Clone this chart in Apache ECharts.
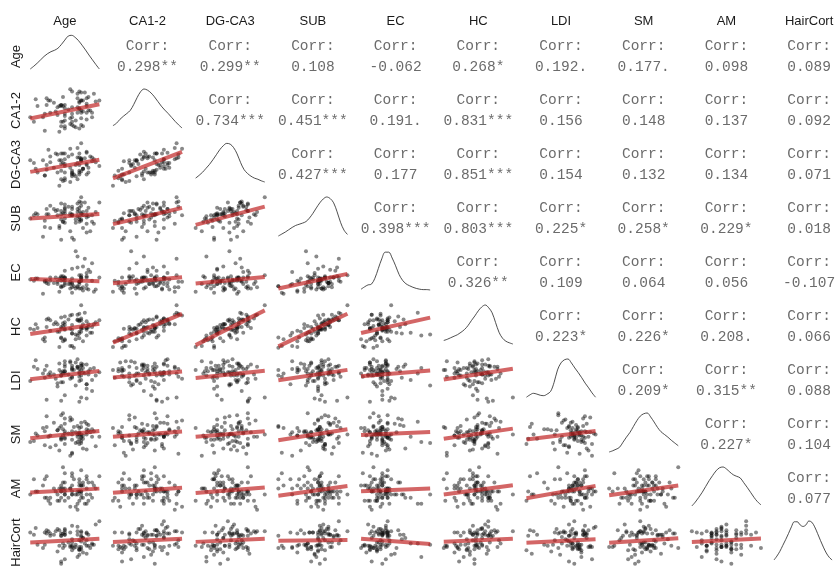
<!DOCTYPE html>
<html><head><meta charset="utf-8">
<script src="https://cdn.jsdelivr.net/npm/echarts@6/dist/echarts.min.js"></script>
<style>html,body{margin:0;padding:0;background:#fff}#c{width:835px;height:567px}</style>
</head><body><div id="c"></div>
<script>
// ---------- DATA ----------
const varNames = ["Age","CA1-2","DG-CA3","SUB","EC","HC","LDI","SM","AM","HairCort"];

// per-subject values (standardised units x10, read/estimated from the scatter panels)
const age = [6,-13,14,-2,6,-11,1,10,-3,-4, 12,-12,7,-3,1,7,-18,2,5,-6, 8,7,-4,15,-13,7,5,-14,7,7, 0,1,-6,11,6,-17,10,2,-4,5, 10,-10,3,5,-21,9,8,-2,-2,-5, 6,6,-12,4,17,-4,4,-7,2,10, -19,11,-2,-3,8,-2,13,2,-10,7, 2,2,13,-8,-2,10,-5,-4,6,-2];
const ca12 = [8,-17,16,-2,3,10,-6,-7,13,-13, 1,6,1,-9,20,-12,11,-12,4,4, 0,10,-9,9,-2,17,-1,-5,10,-1, 2,-11,-3,1,9,5,-1,-9,5,16, 5,-1,-13,12,-5,17,-13,3,-15,5, 18,-15,12,-8,10,6,-14,0,4,12, -9,13,-13,5,10,-4,-1,-5,10,-6, 18,-2,-5,8,-8,7,-18,6,2,6];
const dgca3 = [1,-10,7,7,-9,17,-2,2,3,-14, 10,-4,8,-16,18,5,-3,-9,9,-7, -3,7,6,4,-10,24,-14,6,7,-6, 10,-17,12,-7,13,-7,15,-7,-5,19, -9,10,-9,3,6,8,-3,-7,-13,6, 9,-5,1,1,0,2,-11,13,-5,14, 3,-2,-15,13,-3,2,9,-11,4,6, 12,-8,5,-2,0,1,-21,13,-7,13];
const sub = [9,-3,-6,9,0,3,4,6,4,-2, -13,3,14,-4,2,4,4,-19,13,2, 2,-2,6,5,-9,19,1,-18,11,-3, 10,-13,7,9,6,3,-6,2,3,5, 2,11,-21,8,-1,14,-10,4,-5,-8, 15,-4,8,-5,14,-21,-2,6,8,0, 2,1,-1,-4,5,8,2,2,-10,3, 10,3,-4,8,6,-14,-10,13,-2,12];
const ec = [0,1,-9,4,6,-2,-6,5,2,-5, 9,1,1,5,0,-6,3,-10,13,-2, -5,3,4,-7,0,6,23,-11,4,4, -2,-2,0,11,-6,3,-6,12,1,-5, 4,4,-4,-4,2,21,-8,1,-3,3, 0,0,-1,28,4,-4,-6,4,-1,8, 1,-7,4,-4,14,-1,1,-2,1,1, -5,3,17,-1,3,-3,-9,5,-2,10];
const hc = [9,-12,6,8,-2,12,1,0,7,-9, -3,3,10,-12,15,1,6,-17,11,-2, 2,3,3,8,-8,26,-6,-10,12,-2, 11,-17,6,3,10,2,2,-4,1,16, 2,10,-19,10,1,18,-12,0,-11,-2, 17,-9,11,-5,10,-8,-10,8,5,9, 0,6,-10,4,6,5,3,-4,-1,2, 16,0,-3,6,1,-6,-18,13,-4,14];
const ldi = [3,-2,7,10,-5,1,12,-8,4,0, 6,-22,9,2,-3,5,14,-1,8,-10, 3,11,-6,0,5,-20,7,2,-4,9, 1,13,-7,4,-24,6,10,-2,3,8, -12,0,5,15,-5,2,7,-18,4,11, -1,6,9,-9,3,0,12,-3,5,-21, 8,1,4,-6,10,2,-14,7,3,0, 6,9,-4,1,13,-8,5,-23,2,8];
const sm = [2,-8,5,12,-3,0,18,-12,7,-1, 4,9,-6,1,15,-4,3,-15,10,6, -2,0,20,-9,5,2,-5,8,13,-1, 3,-18,6,11,-7,1,4,16,-3,0, 7,-10,9,2,-5,14,1,-2,5,-13, 8,3,19,-6,0,10,4,-8,2,12, -4,6,-1,22,-11,3,7,-3,1,9, -16,5,0,13,-7,2,8,-2,4,17];
const am = [7,5,9,6,11,4,8,3,10,7, 6,12,5,8,2,9,7,13,6,4, 10,7,5,8,11,6,3,9,7,14, 5,8,6,10,4,7,12,6,9,1, 8,5,11,7,6,3,9,13,4,8, 7,10,5,6,12,8,2,7,9,6, 11,4,8,15,5,7,10,6,3,9, 7,12,5,8,6,11,4,7,9,10];
const hairCort = [-5,8,-3,6,-12,9,-4,1,7,-18, -6,10,5,-2,8,-7,12,-4,6,-9, 3,-5,7,15,-3,9,-14,-6,4,8, -1,-5,11,6,-8,-3,7,2,-20,9, -4,5,-6,13,8,-2,-10,6,-4,10, 1,-7,7,-3,18,5,-5,9,-1,-11, 6,-4,8,-6,3,11,-3,-8,7,0, -5,14,-2,6,-16,8,-4,5,-7,10];

// correlation labels (upper triangle, row by row)
const corrAge  = ["0.298**","0.299**","0.108","-0.062","0.268*","0.192.","0.177.","0.098","0.089"];
const corrCA   = ["0.734***","0.451***","0.191.","0.831***","0.156","0.148","0.137","0.092"];
const corrDG   = ["0.427***","0.177","0.851***","0.154","0.132","0.134","0.071"];
const corrSUB  = ["0.398***","0.803***","0.225*","0.258*","0.229*","0.018"];
const corrEC   = ["0.326**","0.109","0.064","0.056","-0.107"];
const corrHC   = ["0.223*","0.226*","0.208.","0.066"];
const corrLDI  = ["0.209*","0.315**","0.088"];
const corrSM   = ["0.227*","0.104"];
const corrAM   = ["0.077"];

// density curves on the diagonal (relative height, at fractions of each variable's range)
const densX = [0,0.05,0.1,0.15,0.2,0.25,0.3,0.35,0.4,0.45,0.5,0.55,0.6,0.65,0.7,0.75,0.8,0.85,0.9,0.95,1];
const densAge = [0,0.08,0.17,0.27,0.37,0.45,0.51,0.55,0.61,0.72,0.85,0.97,0.99,0.93,0.83,0.70,0.56,0.41,0.27,0.13,0];
const densCA  = [0.06,0.12,0.22,0.30,0.37,0.45,0.60,0.78,0.93,1.0,0.97,0.90,0.80,0.68,0.56,0.46,0.37,0.27,0.17,0.08,0];
const densDG  = [0.10,0.17,0.25,0.35,0.45,0.57,0.70,0.83,0.93,0.99,0.97,0.88,0.72,0.50,0.32,0.22,0.15,0.10,0.07,0.03,0];
const densSUB = [0,0.05,0.10,0.16,0.22,0.27,0.30,0.33,0.37,0.46,0.58,0.72,0.85,0.95,1.0,0.96,0.85,0.62,0.35,0.15,0.04];
const densEC  = [0.02,0.08,0.13,0.15,0.30,0.55,0.80,0.97,0.97,0.82,0.62,0.40,0.25,0.16,0.11,0.07,0.04,0.02,0.01,0.01,0];
const densHC  = [0.09,0.12,0.16,0.20,0.24,0.30,0.37,0.47,0.60,0.72,0.85,0.95,1.0,0.93,0.80,0.55,0.30,0.15,0.07,0.03,0];
const densLDI = [0.02,0.08,0.12,0.10,0.07,0.06,0.10,0.17,0.40,0.72,0.90,0.98,1.0,0.90,0.77,0.65,0.52,0.38,0.26,0.13,0.02];
const densSM  = [0,0.03,0.07,0.12,0.25,0.38,0.50,0.65,0.80,0.92,0.98,1.0,0.90,0.77,0.63,0.52,0.45,0.38,0.30,0.23,0.16];
const densAM  = [0,0.10,0.22,0.35,0.50,0.65,0.78,0.90,0.98,1.0,0.95,0.87,0.80,0.76,0.72,0.60,0.48,0.35,0.22,0.11,0.03];
const densHair= [0,0.10,0.22,0.37,0.52,0.68,0.85,0.98,0.98,0.90,0.86,0.90,1.0,0.97,0.85,0.68,0.50,0.33,0.18,0.07,0];

// ---------- BUILD ----------
const cols = [age, ca12, dgca3, sub, ec, hc, ldi, sm, am, hairCort];
const corrRows = [corrAge, corrCA, corrDG, corrSUB, corrEC, corrHC, corrLDI, corrSM, corrAM];
const dens = [densAge, densCA, densDG, densSUB, densEC, densHC, densLDI, densSM, densAM, densHair];

const colC0 = 64.8, colPitch = 82.7, panelW = 76;
const rowC0 = 56.5, rowPitch = 54, panelH = 47;
const cx = i => colC0 + colPitch * i;
const cy = j => rowC0 + rowPitch * j;

function stats(a){
  const n = a.length, m = a.reduce((s,v)=>s+v,0)/n;
  const sd = Math.sqrt(a.reduce((s,v)=>s+(v-m)*(v-m),0)/(n-1));
  return {m, sd, min: Math.min(...a), max: Math.max(...a)};
}
const st = cols.map(stats);
const pad = s => { const r = s.max - s.min; return [s.min - 0.05*r, s.max + 0.05*r]; };

const hidden = {show:false, axisLine:{show:false}, axisTick:{show:false}, axisLabel:{show:false}, splitLine:{show:false}};
const grid = [], xAxis = [], yAxis = [], series = [], graphic = [];
let g = 0;
for (let j = 0; j < 10; j++) {
  for (let i = 0; i <= j; i++) {
    grid.push({left: cx(i) - panelW/2, top: cy(j) - panelH/2, width: panelW, height: panelH, show:false});
    if (i === j) {
      const ymin = j === 0 ? -0.324 : -0.154, ymax = j === 0 ? 1.059 : 1.051;
      xAxis.push(Object.assign({type:'value', gridIndex:g, min:-0.05, max:1.05}, hidden));
      yAxis.push(Object.assign({type:'value', gridIndex:g, min:ymin, max:ymax}, hidden));
      series.push({type:'line', xAxisIndex:g, yAxisIndex:g, data: densX.map((x,k)=>[x, dens[i][k]]),
        smooth:0.35, showSymbol:false, silent:true, lineStyle:{color:'#222', width:0.8}});
    } else {
      const sx = st[i], sy = st[j];
      const [x0,x1] = pad(sx), [y0,y1] = pad(sy);
      xAxis.push(Object.assign({type:'value', gridIndex:g, min:x0, max:x1}, hidden));
      yAxis.push(Object.assign({type:'value', gridIndex:g, min:y0, max:y1}, hidden));
      series.push({type:'scatter', xAxisIndex:g, yAxisIndex:g, data: cols[i].map((v,k)=>[v, cols[j][k]]),
        symbolSize:4, silent:true, itemStyle:{color:'rgba(15,15,15,0.62)'}});
      const r = parseFloat(corrRows[i][j-i-1]);
      const b = r * sy.sd / sx.sd;
      const f = x => sy.m + b*(x - sx.m);
      series.push({type:'line', xAxisIndex:g, yAxisIndex:g, data:[[sx.min, f(sx.min)],[sx.max, f(sx.max)]],
        showSymbol:false, silent:true, z:3, lineStyle:{color:'rgba(190,30,30,0.68)', width:4}});
    }
    g++;
  }
}

const labelFont = '13px "Liberation Sans", Arial, sans-serif';
const monoFont = '14.5px "Courier New", "Nimbus Mono PS", FreeMono, "Liberation Mono", monospace';
function txt(x, y, text, font, fill, rot){
  return {type:'text', x, y, rotation: rot || 0, silent:true,
    style:{text, font, fill, align:'center', verticalAlign:'middle', textAlign:'center', textVerticalAlign:'middle'}};
}
varNames.forEach((n,i)=>{
  graphic.push(txt(cx(i), 21, n, labelFont, '#1a1a1a'));
  graphic.push(txt(16, cy(i), n, labelFont, '#1a1a1a', Math.PI/2));
});
corrRows.forEach((row,i)=>{
  row.forEach((val,k)=>{
    const j = i + k + 1;
    graphic.push(txt(cx(j), cy(i) - 10.5, 'Corr:', monoFont, '#6b6b6b'));
    graphic.push(txt(cx(j), cy(i) + 10.5, val, monoFont, '#6b6b6b'));
  });
});

const chart = echarts.init(document.getElementById('c'));
chart.setOption({animation:false, backgroundColor:'#ffffff', grid, xAxis, yAxis, series, graphic});
</script></body></html>
